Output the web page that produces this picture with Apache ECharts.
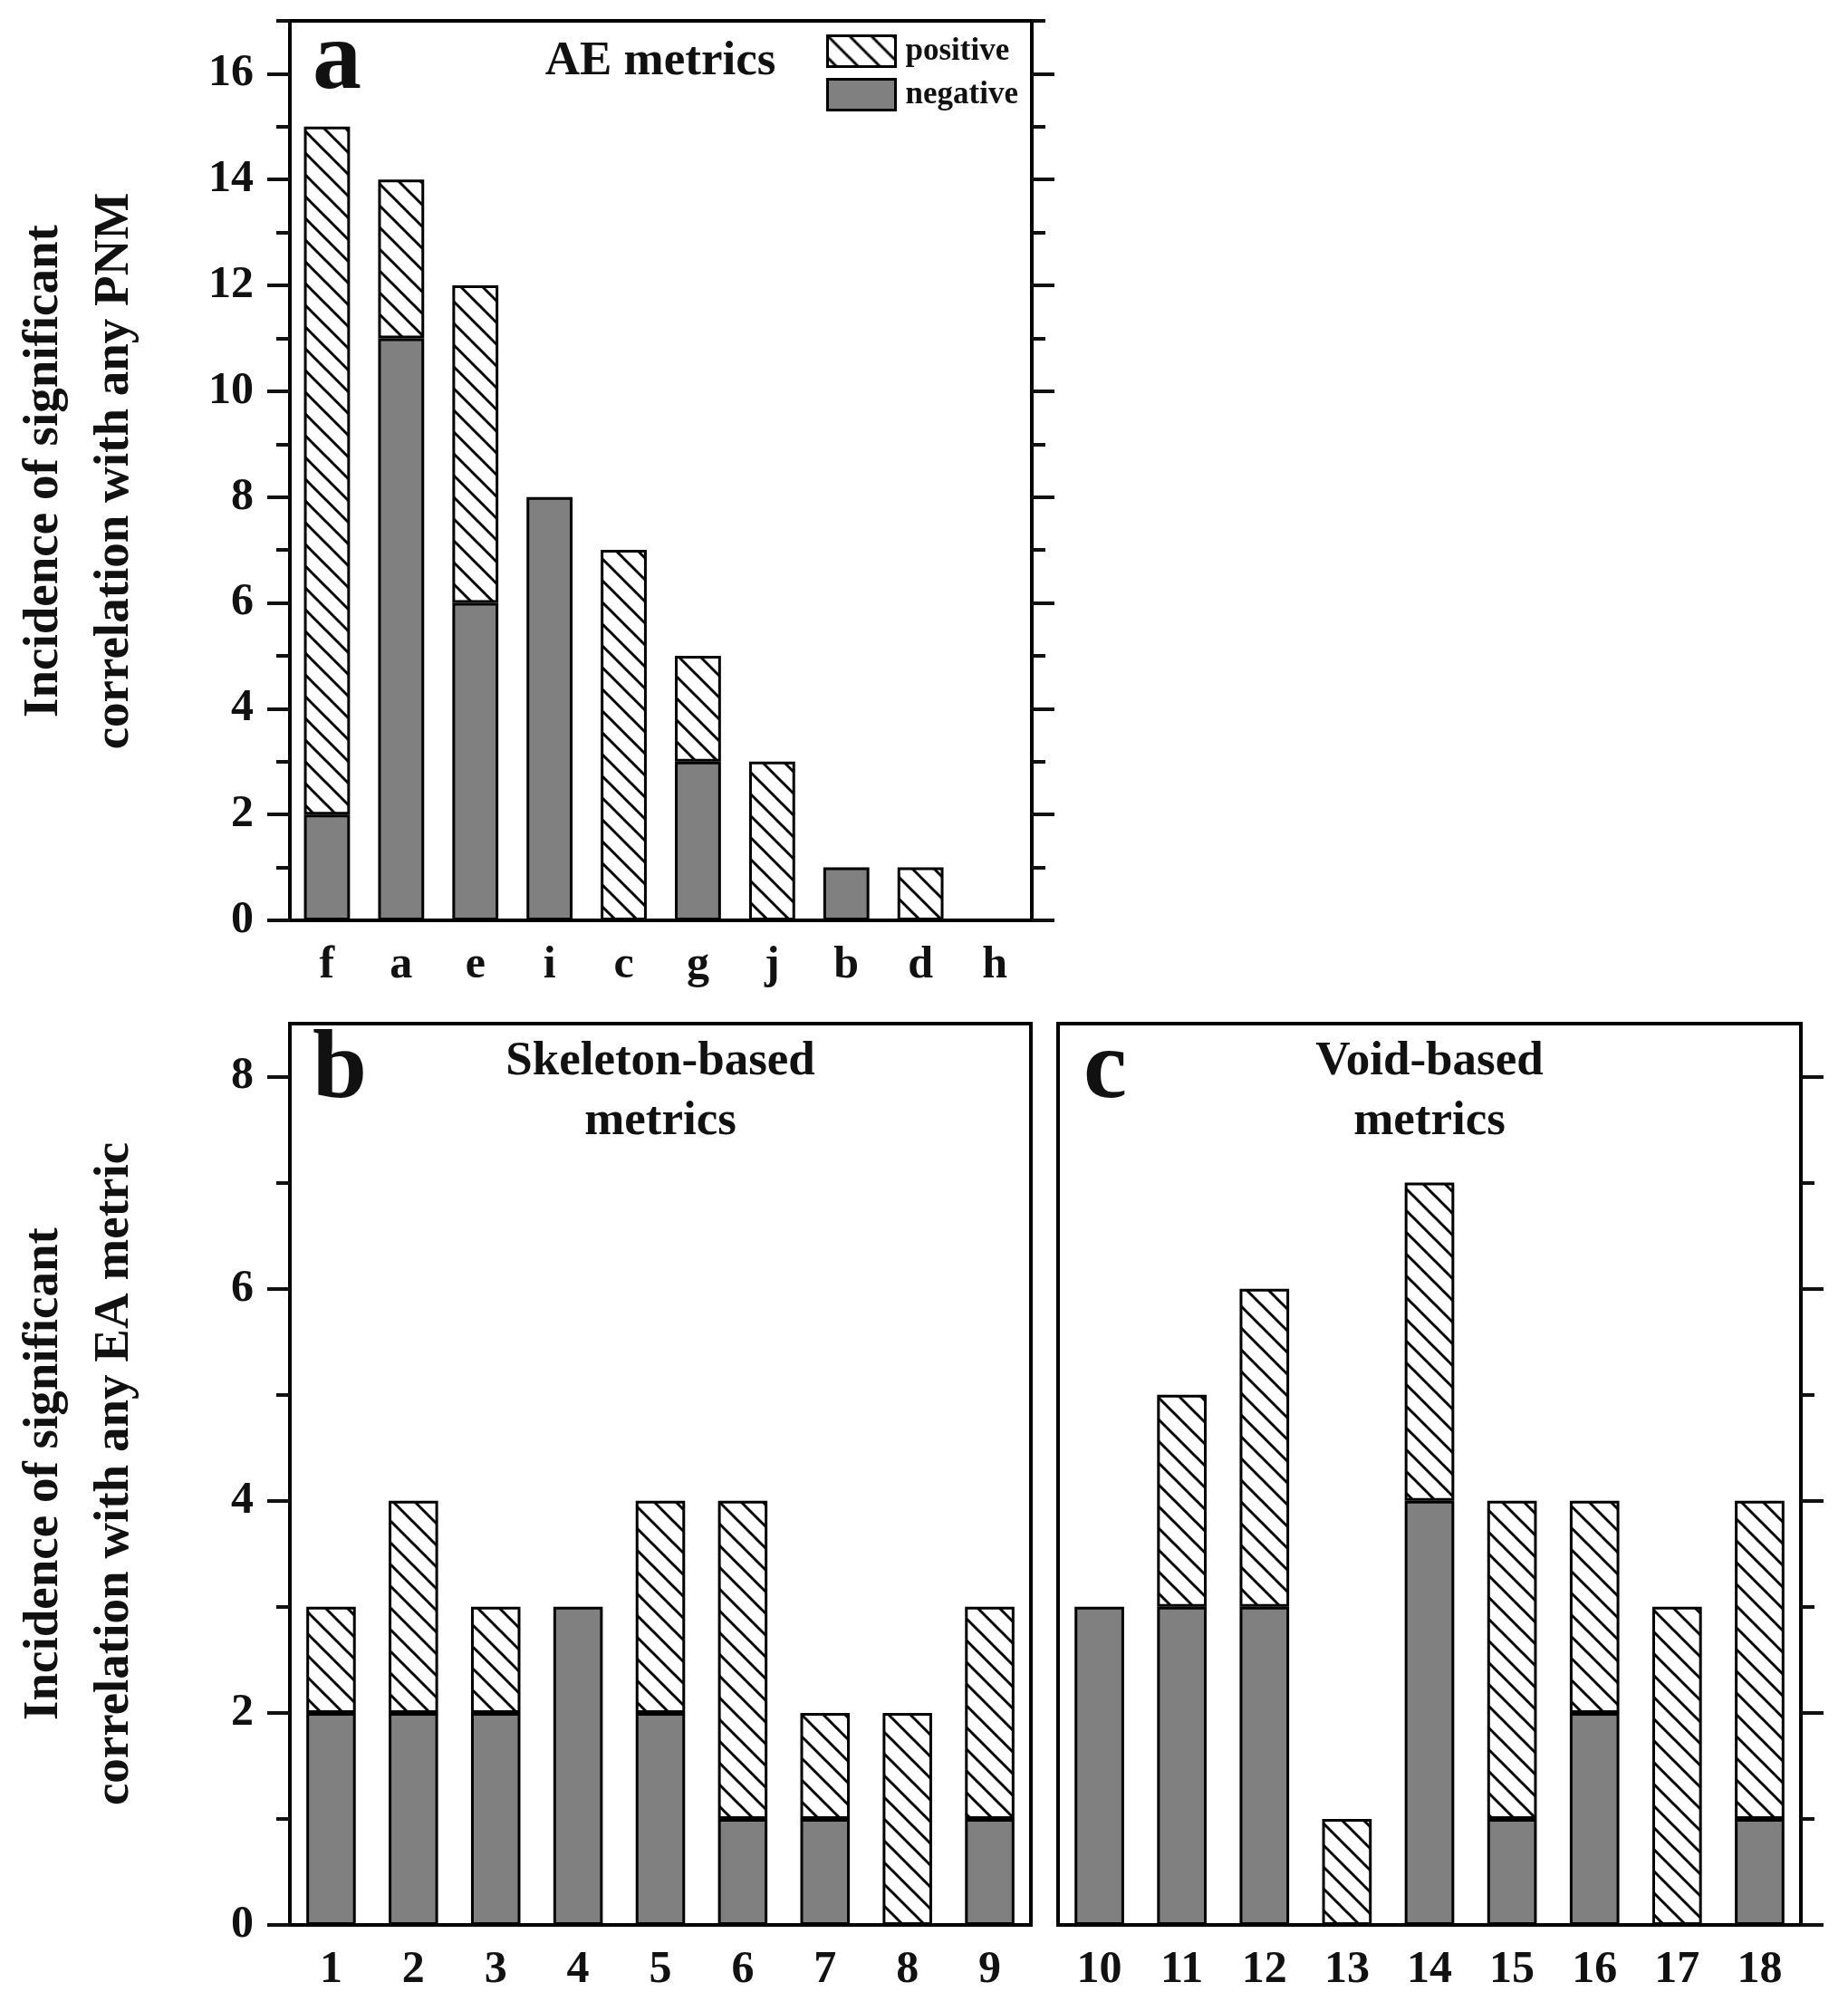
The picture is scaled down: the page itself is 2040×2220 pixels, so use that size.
<!DOCTYPE html>
<html>
<head>
<meta charset="utf-8">
<title>Incidence of significant correlation</title>
<script src="https://cdn.jsdelivr.net/npm/echarts@6/dist/echarts.min.js"></script>
<style>
	html, body { margin: 0; padding: 0; background: #fff; }
	#main { width: 2040px; height: 2220px; }
</style>
</head>
<body>
<div id="main"></div>
<script>
// panel a - AE metrics
var aeCats = ['f', 'a', 'e', 'i', 'c', 'g', 'j', 'b', 'd', 'h'];
var aeNegative = [2, 11, 6, 8, 0, 3, 0, 1, 0, 0];
var aePositive = [13, 3, 6, 0, 7, 2, 3, 0, 1, 0];
var aeMajorTicks = [0, 2, 4, 6, 8, 10, 12, 14, 16];
var aeMinorTicks = [1, 3, 5, 7, 9, 11, 13, 15, 17];

// panel b - skeleton-based metrics
var skelCats = ['1', '2', '3', '4', '5', '6', '7', '8', '9'];
var skelNegative = [2, 2, 2, 3, 2, 1, 1, 0, 1];
var skelPositive = [1, 2, 1, 0, 2, 3, 1, 2, 2];

// panel c - void-based metrics
var voidCats = ['10', '11', '12', '13', '14', '15', '16', '17', '18'];
var voidNegative = [3, 3, 3, 0, 4, 1, 2, 0, 1];
var voidPositive = [0, 2, 3, 1, 3, 3, 2, 3, 3];

var eaMajorTicks = [0, 2, 4, 6, 8];
var eaMinorTicks = [1, 3, 5, 7];

var FONT = '"Liberation Serif", "Times New Roman", serif';
var INK = '#111';
var GREY = '#808080';

// "\\\" hatch tile
function makeHatch() {
	var c = document.createElement('canvas');
	c.width = 24;
	c.height = 24;
	var ctx = c.getContext('2d');
	ctx.fillStyle = '#fff';
	ctx.fillRect(0, 0, 24, 24);
	ctx.strokeStyle = '#000';
	ctx.lineWidth = 3;
	for (var k = -24; k <= 24; k += 24) {
		ctx.beginPath();
		ctx.moveTo(k - 4, -4);
		ctx.lineTo(k + 28, 28);
		ctx.stroke();
	}
	return c;
}
var hatch = makeHatch();

function tickAxis(grid, side, max, ticks, len, labels) {
	return {
		type: 'value',
		gridIndex: grid,
		position: side,
		min: 0,
		max: max,
		splitLine: { show: false },
		axisLine: { show: false },
		axisTick: {
			show: true,
			inside: false,
			length: len,
			customValues: ticks,
			lineStyle: { color: INK, width: 4 }
		},
		axisLabel: {
			show: labels,
			customValues: ticks,
			margin: 40,
			color: INK,
			fontSize: 50,
			fontWeight: 'bold',
			fontFamily: FONT
		}
	};
}

function catAxis(grid, data) {
	return {
		type: 'category',
		gridIndex: grid,
		data: data,
		axisLine: { show: false },
		axisTick: { show: false },
		axisLabel: {
			interval: 0,
			margin: 25,
			color: INK,
			fontSize: 50,
			fontWeight: 'bold',
			fontFamily: FONT
		}
	};
}

// empty segments are left out so no zero-height outline is drawn
function noZero(arr) {
	return arr.map(function (v) { return v === 0 ? '-' : v; });
}

function barPair(xi, yi, neg, pos, width) {
	return [{
		name: 'negative',
		type: 'bar',
		xAxisIndex: xi,
		yAxisIndex: yi,
		stack: 'p' + xi,
		barWidth: width,
		data: noZero(neg),
		itemStyle: { color: GREY, borderColor: '#000', borderWidth: 3 }
	}, {
		name: 'positive',
		type: 'bar',
		xAxisIndex: xi,
		yAxisIndex: yi,
		stack: 'p' + xi,
		barWidth: width,
		data: noZero(pos),
		itemStyle: { color: { image: hatch, repeat: 'repeat' }, borderColor: '#000', borderWidth: 3 }
	}];
}

function label(text, x, y, size, extra) {
	var o = {
		type: 'text',
		x: x,
		y: y,
		style: {
			text: text,
			fill: INK,
			fontSize: size,
			fontWeight: 'bold',
			fontFamily: FONT,
			align: 'center',
			verticalAlign: 'middle'
		}
	};
	if (extra) {
		for (var k in extra.style || {}) o.style[k] = extra.style[k];
		if (extra.rotation) o.rotation = extra.rotation;
	}
	return o;
}

var gridBox = { show: true, borderColor: '#000', borderWidth: 4, backgroundColor: 'transparent' };

var dom = document.getElementById('main');
var myChart = echarts.init(dom);
var option = {
	animation: false,
	backgroundColor: '#fff',
	grid: [
		Object.assign({ left: 320, top: 23, width: 819, height: 993 }, gridBox),
		Object.assign({ left: 320, top: 1130, width: 818, height: 995 }, gridBox),
		Object.assign({ left: 1168, top: 1130, width: 820, height: 995 }, gridBox)
	],
	xAxis: [
		catAxis(0, aeCats),
		catAxis(1, skelCats),
		catAxis(2, voidCats)
	],
	yAxis: [
		tickAxis(0, 'left', 17, aeMajorTicks, 25, true),
		tickAxis(0, 'left', 17, aeMinorTicks, 15, false),
		tickAxis(0, 'right', 17, aeMajorTicks, 25, false),
		tickAxis(0, 'right', 17, aeMinorTicks, 15, false),
		tickAxis(1, 'left', 8.5, eaMajorTicks, 25, true),
		tickAxis(1, 'left', 8.5, eaMinorTicks, 15, false),
		tickAxis(2, 'right', 8.5, eaMajorTicks, 25, false),
		tickAxis(2, 'right', 8.5, eaMinorTicks, 15, false)
	],
	legend: {
		orient: 'vertical',
		left: 912,
		top: 38,
		padding: 0,
		itemWidth: 75,
		itemHeight: 34,
		itemGap: 11,
		icon: 'rect',
		data: ['positive', 'negative'],
		itemStyle: { borderColor: '#000', borderWidth: 3 },
		textStyle: {
			color: INK,
			fontSize: 35,
			fontWeight: 'bold',
			fontFamily: FONT,
			padding: [0, 0, 0, 6]
		}
	},
	graphic: [
		label('a', 372, 69, 108),
		label('b', 375, 1183, 108),
		label('c', 1220, 1183, 108),
		label('AE metrics', 729, 68, 53),
		label('Skeleton-based\nmetrics', 729, 1205, 53, { style: { lineHeight: 66 } }),
		label('Void-based\nmetrics', 1578, 1205, 53, { style: { lineHeight: 66 } }),
		label('Incidence of significant\ncorrelation with any PNM', 88, 520, 55,
			{ rotation: Math.PI / 2, style: { lineHeight: 78 } }),
		label('Incidence of significant\ncorrelation with any EA metric', 88, 1627, 55,
			{ rotation: Math.PI / 2, style: { lineHeight: 78 } })
	],
	series: [].concat(
		barPair(0, 0, aeNegative, aePositive, '62%'),
		barPair(1, 4, skelNegative, skelPositive, '60%'),
		barPair(2, 6, voidNegative, voidPositive, '60%')
	)
};
if (option && typeof option === "object") {
	myChart.setOption(option, true);
}
</script>
</body>
</html>
